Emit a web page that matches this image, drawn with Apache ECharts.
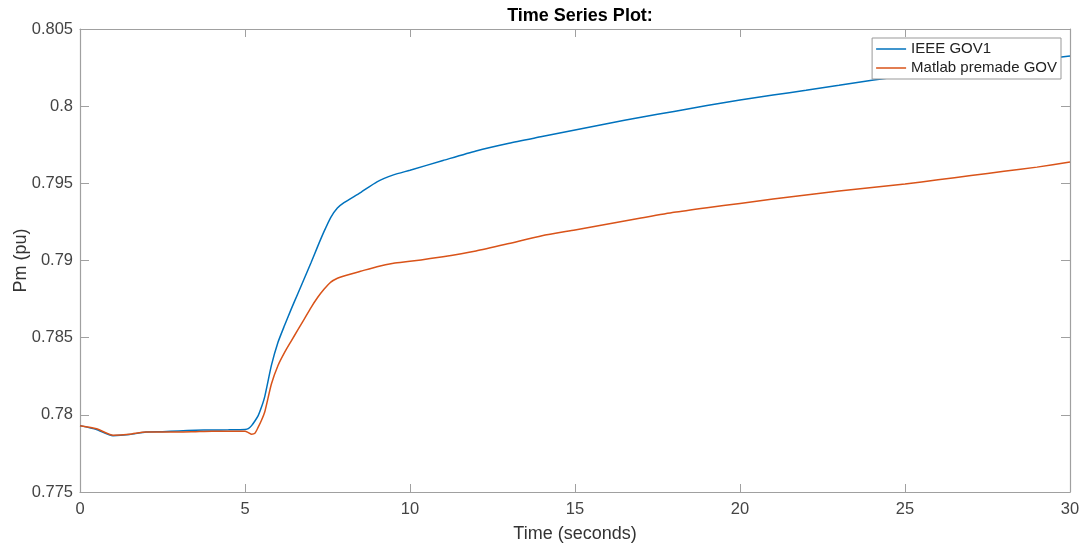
<!DOCTYPE html>
<html>
<head>
<meta charset="utf-8">
<script src="https://cdn.jsdelivr.net/npm/echarts@6/dist/echarts.min.js"></script>
<style>
  html, body { margin: 0; padding: 0; background: #fff; }
  #chart { width: 1086px; height: 550px; }
</style>
</head>
<body>
<div id="chart"></div>
<script>
// Sample times (s)
const timeSec = [0, 0.5, 1, 1.5, 2, 2.5, 3, 3.5, 4, 4.5, 5, 5.1, 5.2, 5.3, 5.4, 5.5, 5.6, 5.8,
  6, 6.2, 6.4, 6.6, 6.8, 7, 7.2, 7.4, 7.6, 7.8, 8, 8.5, 9, 9.5, 10, 11, 12, 13, 14, 15,
  16, 17, 18, 19, 20, 21, 22, 23, 24, 25, 26, 27, 28, 29, 30];

// Mechanical power, IEEE GOV1 model (pu)
const pmGov1 = [0.77930, 0.77905, 0.77865, 0.77872, 0.77889, 0.77891, 0.77896, 0.77900, 0.77902, 0.77903,
  0.77905, 0.77910, 0.77930, 0.77960, 0.77995, 0.78050, 0.78120, 0.78320,
  0.78470, 0.78580, 0.78685, 0.78785, 0.78885, 0.78985, 0.79090, 0.79190, 0.79280, 0.79340,
  0.79375, 0.79440, 0.79510, 0.79555, 0.79585, 0.79648, 0.79710, 0.79760, 0.79803, 0.79846,
  0.79888, 0.79928, 0.79966, 0.80004, 0.80040, 0.80072, 0.80103, 0.80135, 0.80168, 0.80195,
  0.80222, 0.80250, 0.80275, 0.80300, 0.80325];

// Mechanical power, Matlab premade governor (pu)
const pmMatlab = [0.77930, 0.77910, 0.77868, 0.77874, 0.77889, 0.77889, 0.77889, 0.77891, 0.77893, 0.77893,
  0.77893, 0.77885, 0.77874, 0.77880, 0.77920, 0.77965, 0.78020, 0.78200,
  0.78320, 0.78405, 0.78478, 0.78550, 0.78622, 0.78695, 0.78760, 0.78815, 0.78860, 0.78885,
  0.78900, 0.78930, 0.78960, 0.78982, 0.78995, 0.79025, 0.79062, 0.79110, 0.79160, 0.79198,
  0.79237, 0.79275, 0.79312, 0.79342, 0.79370, 0.79398, 0.79425, 0.79450, 0.79473, 0.79495,
  0.79523, 0.79550, 0.79578, 0.79605, 0.79638];

const seriesNames = ['IEEE GOV1', 'Matlab premade GOV'];
const yTicks = { min: 0.775, max: 0.805, step: 0.005 };
const xTicks = { min: 0, max: 30, step: 5 };

const FONT = '"Liberation Sans", Arial, Helvetica, sans-serif';
const AXIS_GREY = '#a0a0a0';
const TEXT = '#444';
const BLUE = '#0072BD';
const ORANGE = '#D95319';

const pair = (xs, ys) => xs.map((x, i) => [x, ys[i]]);

const chart = echarts.init(document.getElementById('chart'), null, { renderer: 'canvas' });

const baseX = {
  type: 'value', min: xTicks.min, max: xTicks.max, interval: xTicks.step,
  axisLine: { show: true, onZero: false, lineStyle: { color: AXIS_GREY, width: 1.2 } },
  axisTick: { show: true, inside: true, length: 8, lineStyle: { color: AXIS_GREY, width: 1 } },
  splitLine: { show: false }
};
const baseY = {
  type: 'value', min: yTicks.min, max: yTicks.max, interval: yTicks.step,
  axisLine: { show: true, onZero: false, lineStyle: { color: AXIS_GREY, width: 1.2 } },
  axisTick: { show: true, inside: true, length: 9, lineStyle: { color: AXIS_GREY, width: 1 } },
  splitLine: { show: false }
};

chart.setOption({
  animation: false,
  backgroundColor: '#fff',
  title: {
    text: 'Time Series Plot:',
    left: 575, top: 2, textAlign: 'center',
    textStyle: { fontFamily: FONT, fontSize: 18, fontWeight: 'bold', color: '#000' }
  },
  grid: { left: 80, right: 16, top: 29, bottom: 58, containLabel: false, outerBoundsMode: 'none' },
  legend: {
    data: seriesNames.map(n => ({ name: n, icon: 'rect' })),
    orient: 'vertical',
    right: 25, top: 38,
    itemWidth: 30, itemHeight: 1.5, itemGap: 1,
    padding: [2, 4, 2, 4],
    backgroundColor: '#fff',
    borderColor: '#999', borderWidth: 1, borderRadius: 0,
    textStyle: { fontFamily: FONT, fontSize: 15, color: '#222', lineHeight: 18 }
  },
  xAxis: [
    Object.assign({}, baseX, {
      position: 'bottom',
      name: 'Time (seconds)', nameLocation: 'middle', nameGap: 33, nameMoveOverlap: false,
      nameTextStyle: { fontFamily: FONT, fontSize: 18, color: '#333' },
      axisLabel: { fontFamily: FONT, fontSize: 16.5, color: TEXT, margin: 9 }
    }),
    Object.assign({}, baseX, { position: 'top', axisLabel: { show: false } })
  ],
  yAxis: [
    Object.assign({}, baseY, {
      position: 'left',
      name: 'Pm (pu)', nameLocation: 'middle', nameGap: 50, nameMoveOverlap: false,
      nameTextStyle: { fontFamily: FONT, fontSize: 18, color: '#333' },
      axisLabel: {
        fontFamily: FONT, fontSize: 16.5, color: TEXT, margin: 7,
        formatter: v => String(parseFloat(v.toFixed(3)))
      }
    }),
    Object.assign({}, baseY, { position: 'right', axisLabel: { show: false } })
  ],
  series: [
    {
      name: seriesNames[0], type: 'line', data: pair(timeSec, pmGov1),
      xAxisIndex: 0, yAxisIndex: 0,
      symbol: 'none', smooth: 0.2,
      lineStyle: { color: BLUE, width: 1.5 }, itemStyle: { color: BLUE }
    },
    {
      name: seriesNames[1], type: 'line', data: pair(timeSec, pmMatlab),
      xAxisIndex: 0, yAxisIndex: 0,
      symbol: 'none', smooth: 0.2,
      lineStyle: { color: ORANGE, width: 1.5 }, itemStyle: { color: ORANGE }
    }
  ]
});
</script>
</body>
</html>
